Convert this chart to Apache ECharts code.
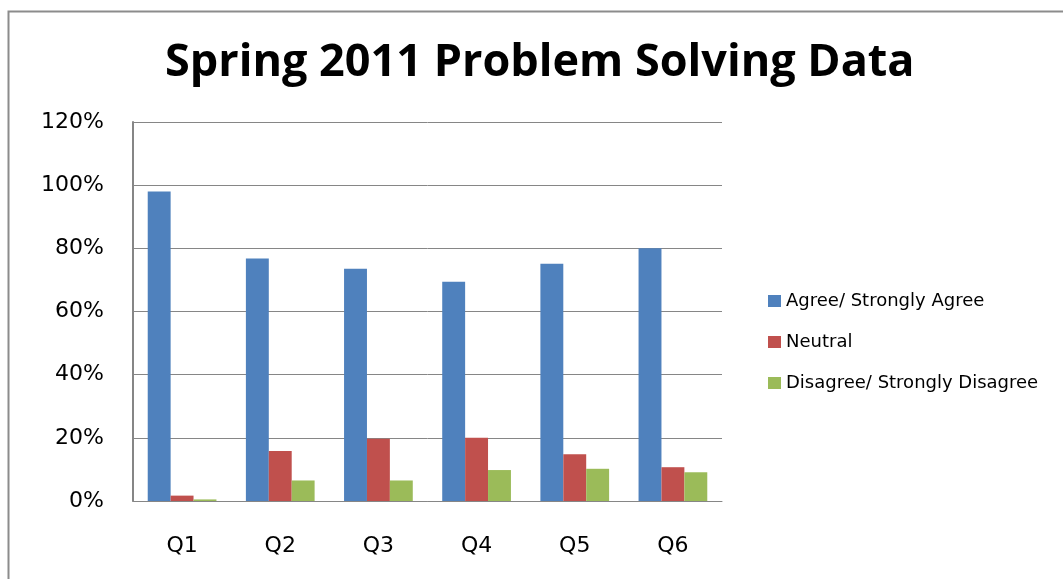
<!DOCTYPE html>
<html>
<head>
<meta charset="utf-8">
<script src="https://cdn.jsdelivr.net/npm/echarts@6/dist/echarts.min.js"></script>
<style>html,body{margin:0;padding:0;background:#fff;}#c{width:1063px;height:579px;}</style>
</head>
<body>
<div id="c"></div>
<script>
const categories = ['Q1','Q2','Q3','Q4','Q5','Q6'];
const seriesNames = ['Agree/ Strongly Agree','Neutral','Disagree/ Strongly Disagree'];
const agree = [98, 76.8, 73.5, 69.4, 75.1, 80];
const neutral = [1.7, 15.8, 19.7, 20, 14.8, 10.7];
const disagree = [0.5, 6.5, 6.5, 9.8, 10.2, 9.1];
const yTicks = [0, 20, 40, 60, 80, 100, 120];
const colors = ['#4F81BD','#C0504D','#9BBB59'];

const chart = echarts.init(document.getElementById('c'), null, {renderer:'canvas'});
const font = 'DejaVu Sans';
chart.setOption({
  animation: false,
  backgroundColor: '#fff',
  graphic: [{
    type: 'rect', left: 6, top: 9, z: -1,
    shape: {width: 1070, height: 600},
    style: {fill: 'none', stroke: '#8c8c8c', lineWidth: 2}
  }],
  title: {
    text: 'Spring 2011 Problem Solving Data',
    left: 160, top: 36,
    textStyle: {fontFamily: 'Open Sans', fontWeight: 'bold', fontSize: 45, color: '#000'}
  },
  legend: {
    orient: 'vertical', left: 763, top: 287,
    itemWidth: 13, itemHeight: 12, itemGap: 23,
    icon: 'rect',
    textStyle: {fontFamily: font, fontSize: 18, color: '#000'},
    data: seriesNames
  },
  grid: {left: 133, right: 341, top: 122, bottom: 78, containLabel: false},
  xAxis: {
    type: 'category', data: categories,
    axisLine: {lineStyle: {color: '#868686', width: 1}},
    axisTick: {show: false},
    axisLabel: {fontFamily: font, fontSize: 22, color: '#000', margin: 34}
  },
  yAxis: {
    type: 'value', min: yTicks[0], max: yTicks[yTicks.length-1], interval: 20,
    axisLine: {show: true, lineStyle: {color: '#868686', width: 2}},
    axisTick: {show: false},
    splitLine: {lineStyle: {color: '#868686', width: 1}},
    axisLabel: {fontFamily: font, fontSize: 22, color: '#000', margin: 29, formatter: v => v + '%'}
  },
  series: [agree, neutral, disagree].map((d, i) => ({
    name: seriesNames[i], type: 'bar', data: d,
    barGap: '0%', barCategoryGap: '30%',
    itemStyle: {color: colors[i]}
  }))
});
</script>
</body>
</html>
